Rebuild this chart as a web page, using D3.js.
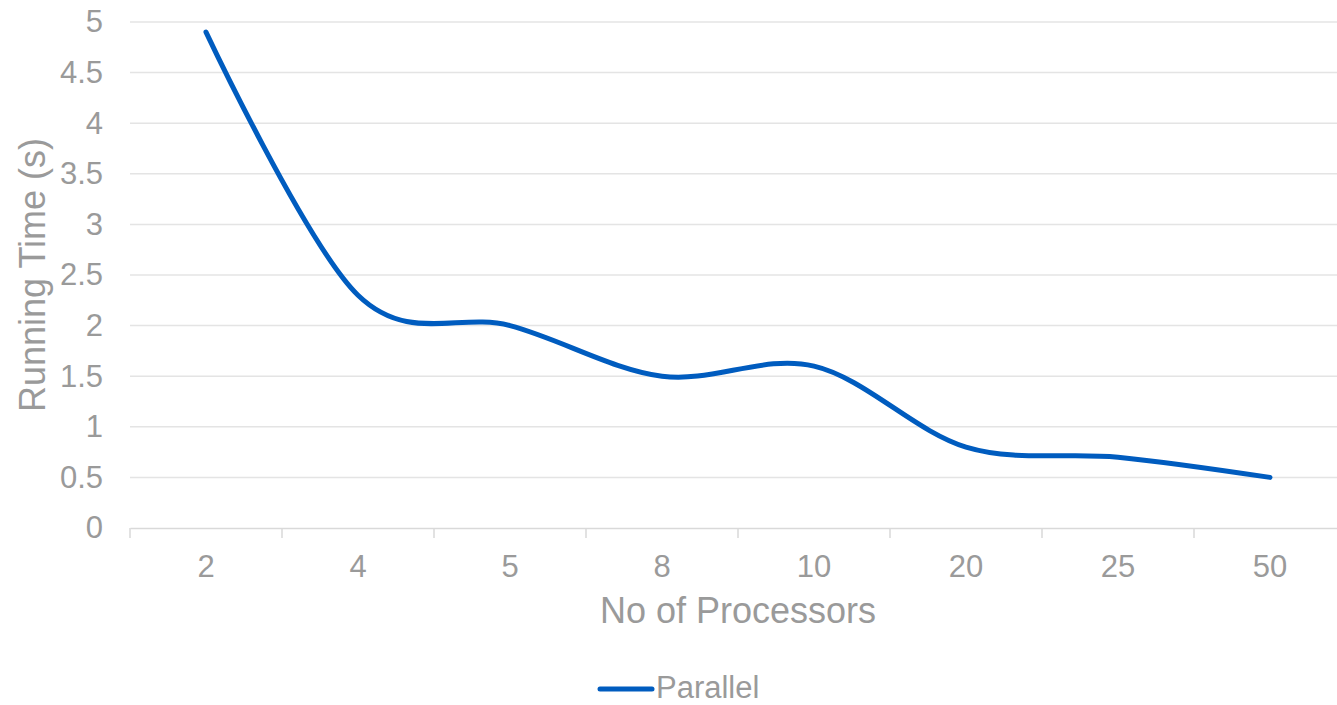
<!DOCTYPE html>
<html>
<head>
<meta charset="utf-8">
<script src="https://cdn.jsdelivr.net/npm/d3@7"></script>
<style>
  html, body { margin: 0; padding: 0; background: #fff; }
  svg { display: block; font-family: "Liberation Sans", Arial, sans-serif; }
</style>
</head>
<body>
<svg id="chart" width="1337" height="705"></svg>
<script>
// Running time of the parallel version against processor count
const processors = ["2", "4", "5", "8", "10", "20", "25", "50"];
const runningTime = [4.9, 2.3, 2.0, 1.5, 1.6, 0.8, 0.7, 0.5];
const yTicks = [0, 0.5, 1, 1.5, 2, 2.5, 3, 3.5, 4, 4.5, 5];
const seriesName = "Parallel";

const svg = d3.select("#chart");
const plotLeft = 130, plotRight = 1346, plotTop = 22, plotBottom = 528;
const textColor = "#9a9a9a";
const lineColor = "#005cbf";
const tickFont = "31px";
const titleFont = "36px";

const x = d3.scaleBand().domain(processors).range([plotLeft, plotRight]);
const y = d3.scaleLinear().domain([0, 5]).range([plotBottom, plotTop]);

// horizontal gridlines
svg.append("g")
  .selectAll("line")
  .data(yTicks.filter(d => d > 0))
  .join("line")
  .attr("x1", plotLeft).attr("x2", plotRight)
  .attr("y1", d => y(d)).attr("y2", d => y(d))
  .attr("stroke", "#e4e4e4").attr("stroke-width", 1.5);

// y axis labels
const yAxis = svg.append("g")
  .attr("transform", `translate(${plotLeft},0)`)
  .call(d3.axisLeft(y).tickValues(yTicks).tickSize(0).tickPadding(27).tickFormat(d3.format("")));
yAxis.select(".domain").remove();
yAxis.selectAll("text").attr("fill", textColor).style("font-size", tickFont);

// x axis with tick marks at band boundaries
const xAxis = svg.append("g")
  .attr("transform", `translate(0,${plotBottom})`)
  .call(d3.axisBottom(x).tickSize(0).tickPadding(27));
xAxis.select(".domain").attr("stroke", "#d9d9d9").attr("stroke-width", 1.5);
xAxis.selectAll("text").attr("fill", textColor).style("font-size", tickFont);
svg.append("g")
  .selectAll("line")
  .data(processors.map(p => x(p)).concat([plotRight]))
  .join("line")
  .attr("x1", d => d).attr("x2", d => d)
  .attr("y1", plotBottom).attr("y2", plotBottom + 10)
  .attr("stroke", "#d9d9d9").attr("stroke-width", 1.5);

// series line
const line = d3.line()
  .x((d, i) => x(processors[i]) + x.bandwidth() / 2)
  .y(d => y(d))
  .curve(d3.curveCatmullRom.alpha(0));
svg.append("path")
  .datum(runningTime)
  .attr("d", line)
  .attr("fill", "none")
  .attr("stroke", lineColor)
  .attr("stroke-width", 5)
  .attr("stroke-linecap", "round");

// axis titles
svg.append("text")
  .attr("x", 738).attr("y", 623)
  .attr("text-anchor", "middle")
  .attr("fill", textColor).style("font-size", titleFont)
  .text("No of Processors");
svg.append("text")
  .attr("transform", `translate(45,${(plotTop + plotBottom) / 2}) rotate(-90)`)
  .attr("text-anchor", "middle")
  .attr("fill", textColor).style("font-size", titleFont)
  .text("Running Time (s)");

// legend
const legend = svg.append("g");
legend.append("line")
  .attr("x1", 600).attr("x2", 652).attr("y1", 689).attr("y2", 689)
  .attr("stroke", lineColor).attr("stroke-width", 5).attr("stroke-linecap", "round");
legend.append("text")
  .attr("x", 656).attr("y", 698)
  .attr("fill", textColor).style("font-size", tickFont)
  .text(seriesName);
</script>
</body>
</html>
